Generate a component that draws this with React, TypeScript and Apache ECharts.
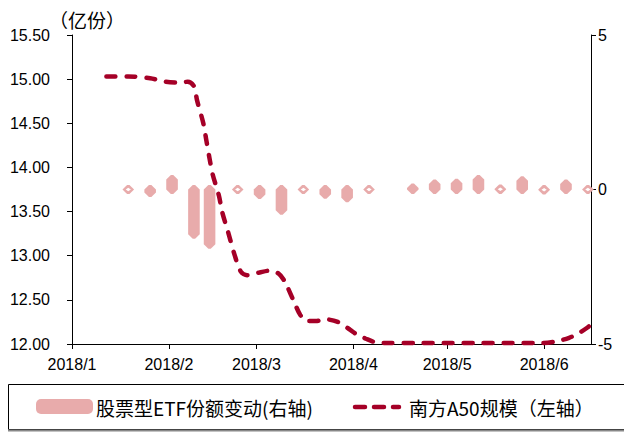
import React, { useEffect, useRef } from "react";
import * as echarts from "echarts";

// ---- data ----
const monthTicks = ["2018-01-01", "2018-02-01", "2018-03-01", "2018-04-01", "2018-05-01", "2018-06-01"];
const monthLabels = ["2018/1", "2018/2", "2018/3", "2018/4", "2018/5", "2018/6"];
const axisStart = "2018-01-01";
const axisEnd = "2018-06-16";
const leftMin = 12;
const leftMax = 15.5;
const leftStep = 0.5;
const rightMin = -5;
const rightMax = 5;
const rightStep = 5;

const barDates = [
  "2018-01-19", "2018-01-26", "2018-02-02", "2018-02-09", "2018-02-14", "2018-02-23",
  "2018-03-02", "2018-03-09", "2018-03-16", "2018-03-23", "2018-03-30", "2018-04-06",
  "2018-04-20", "2018-04-27", "2018-05-04", "2018-05-11", "2018-05-18", "2018-05-25",
  "2018-06-01", "2018-06-08", "2018-06-15",
];
const etfChange = [
  0.0, -0.1, 0.32, -1.45, -1.77, 0.0,
  -0.16, -0.67, 0.0, -0.15, -0.27, 0.0,
  0.05, 0.18, 0.2, 0.32, 0.02, 0.28,
  -0.02, 0.18, 0.0,
];

const lineDates = [
  "2018-01-12", "2018-01-19", "2018-01-26", "2018-01-31", "2018-02-04", "2018-02-07",
  "2018-02-09", "2018-02-10", "2018-02-12", "2018-02-13", "2018-02-14", "2018-02-15",
  "2018-02-17", "2018-02-18", "2018-02-20", "2018-02-22", "2018-02-24", "2018-02-26",
  "2018-03-02", "2018-03-05", "2018-03-08", "2018-03-10", "2018-03-13", "2018-03-15",
  "2018-03-17", "2018-03-20", "2018-03-23", "2018-03-27", "2018-03-31", "2018-04-02",
  "2018-04-05", "2018-04-08", "2018-04-12", "2018-04-21", "2018-05-01", "2018-05-11",
  "2018-05-21", "2018-05-31", "2018-06-05", "2018-06-09", "2018-06-12", "2018-06-15",
  "2018-06-16",
];
const a50Scale = [
  15.03, 15.03, 15.01, 14.97, 14.96, 14.97,
  14.92, 14.76, 14.5, 14.3, 14.1, 13.92,
  13.68, 13.5, 13.26, 13.01, 12.82, 12.78,
  12.81, 12.83, 12.8, 12.71, 12.48, 12.33,
  12.26, 12.26, 12.28, 12.25, 12.16, 12.11,
  12.06, 12.02, 12.01, 12.01, 12.01, 12.01,
  12.01, 12.01, 12.03, 12.07, 12.12, 12.19,
  12.22,
];

const barName = "股票型ETF份额变动(右轴)";
const lineName = "南方A50规模（左轴）";
const unitLabel = "（亿份）";

const barColor = "#E8ABAB";
const lineColor = "#A50027";

// day offset from axisStart (UTC-based to avoid DST issues)
const dayOf = (s: string) => {
  const [y, m, d] = s.split("-").map(Number);
  const [y0, m0, d0] = axisStart.split("-").map(Number);
  return Math.round((Date.UTC(y, m - 1, d) - Date.UTC(y0, m0 - 1, d0)) / 86400000);
};

export default function App() {
  const ref = useRef<HTMLDivElement>(null);
  useEffect(() => {
    if (!ref.current) return;
    const chart = echarts.init(ref.current, null, { renderer: "svg" });
    const numFont = "Liberation Sans";
    const cjkFont = "Noto Sans CJK SC";
    const tickVals = monthTicks.map(dayOf);
    chart.setOption({
      animation: false,
      backgroundColor: "#fff",
      title: {
        text: unitLabel,
        left: 44,
        top: 5,
        textStyle: { fontSize: 19, fontWeight: "normal", fontFamily: cjkFont, color: "#000" },
      },
      grid: { left: 72, right: 33, top: 35, bottom: 88 },
      xAxis: {
        type: "value",
        min: dayOf(axisStart),
        max: dayOf(axisEnd),
        axisLine: { onZero: false, lineStyle: { color: "#000", width: 1 } },
        axisTick: { show: true, length: 5, inside: false, customValues: tickVals, lineStyle: { color: "#000" } },
        axisLabel: {
          customValues: tickVals,
          margin: 12,
          fontSize: 16,
          fontFamily: numFont,
          color: "#000",
          formatter: (v: number) => {
            const i = tickVals.indexOf(Math.round(v));
            return i >= 0 ? monthLabels[i] : "";
          },
        },
        splitLine: { show: false },
      },
      yAxis: [
        {
          type: "value",
          min: leftMin,
          max: leftMax,
          interval: leftStep,
          axisLine: { show: true, onZero: false, lineStyle: { color: "#000" } },
          axisTick: { show: true, length: 5, lineStyle: { color: "#000" } },
          axisLabel: {
            margin: 22,
            fontSize: 16,
            fontFamily: numFont,
            color: "#000",
            formatter: (v: number) => v.toFixed(2),
          },
          splitLine: { show: false },
        },
        {
          type: "value",
          position: "right",
          min: rightMin,
          max: rightMax,
          interval: rightStep,
          axisLine: { show: true, onZero: false, lineStyle: { color: "#000" } },
          axisTick: { show: true, length: 5, lineStyle: { color: "#000" } },
          axisLabel: { margin: 7, fontSize: 16, fontFamily: numFont, color: "#000" },
          splitLine: { show: false },
        },
      ],
      series: [
        {
          name: barName,
          type: "custom",
          coordinateSystem: "cartesian2d",
          yAxisIndex: 1,
          encode: { x: 0, y: 1 },
          data: barDates.map((d, i) => [dayOf(d), etfChange[i]]),
          clip: false,
          z: 1,
          renderItem: (_params: any, api: any) => {
            const x = api.value(0);
            const v = api.value(1);
            const p0 = api.coord([x, 0]);
            const p1 = api.coord([x, v]);
            const cx = p0[0];
            const top = Math.min(p0[1], p1[1]) - 4.5;
            const bot = Math.max(p0[1], p1[1]) + 4.5;
            const hw = 5.8;
            const c = 4.5;
            const fw = 1.2;
            const pts = [
              [cx - fw, top], [cx + fw, top], [cx + hw, top + c], [cx + hw, bot - c],
              [cx + fw, bot], [cx - fw, bot], [cx - hw, bot - c], [cx - hw, top + c],
            ];
            const children: any[] = [
              { type: "polygon", shape: { points: pts }, style: { fill: barColor } },
            ];
            if (Math.abs(v) < 0.03) {
              const my = (top + bot) / 2;
              children.push({
                type: "polygon",
                shape: { points: [[cx - 2.6, my], [cx, my - 1.8], [cx + 2.6, my], [cx, my + 1.8]] },
                style: { fill: "#fff" },
              });
            }
            return { type: "group", children };
          },
        },
        {
          name: lineName,
          type: "line",
          yAxisIndex: 0,
          symbol: "none",
          smooth: 0.3,
          data: lineDates.map((d, i) => [dayOf(d), a50Scale[i]]),
          lineStyle: { color: lineColor, width: 4.5, type: [9, 11], cap: "round" },
          itemStyle: { color: lineColor },
          z: 3,
        },
      ],
      graphic: [
        {
          type: "rect",
          shape: { x: 8.5, y: 384.5, width: 620, height: 45 },
          style: { fill: "none", stroke: "#000", lineWidth: 1 },
          silent: true,
        },
        {
          type: "line",
          shape: { x1: 8, y1: 430.5, x2: 624, y2: 430.5 },
          style: { stroke: "#888", lineWidth: 2 },
          silent: true,
        },
        {
          type: "rect",
          shape: { x: 36, y: 399, width: 57, height: 15, r: 5 },
          style: { fill: barColor },
          silent: true,
        },
        {
          type: "text",
          x: 96,
          y: 407,
          style: {
            text: barName,
            fontSize: 19,
            fontFamily: cjkFont,
            fill: "#000",
            verticalAlign: "middle",
            align: "left",
          },
          silent: true,
        },
        {
          type: "line",
          shape: { x1: 355, y1: 407, x2: 399, y2: 407 },
          style: { stroke: lineColor, lineWidth: 4.5, lineDash: [10, 9], lineCap: "round" },
          silent: true,
        },
        {
          type: "text",
          x: 409,
          y: 407,
          style: {
            text: lineName,
            fontSize: 19,
            fontFamily: cjkFont,
            fill: "#000",
            verticalAlign: "middle",
            align: "left",
          },
          silent: true,
        },
      ],
    });
    return () => chart.dispose();
  }, []);
  return <div ref={ref} style={{ width: 624, height: 432, position: "absolute", left: 0, top: 0 }} />;
}
